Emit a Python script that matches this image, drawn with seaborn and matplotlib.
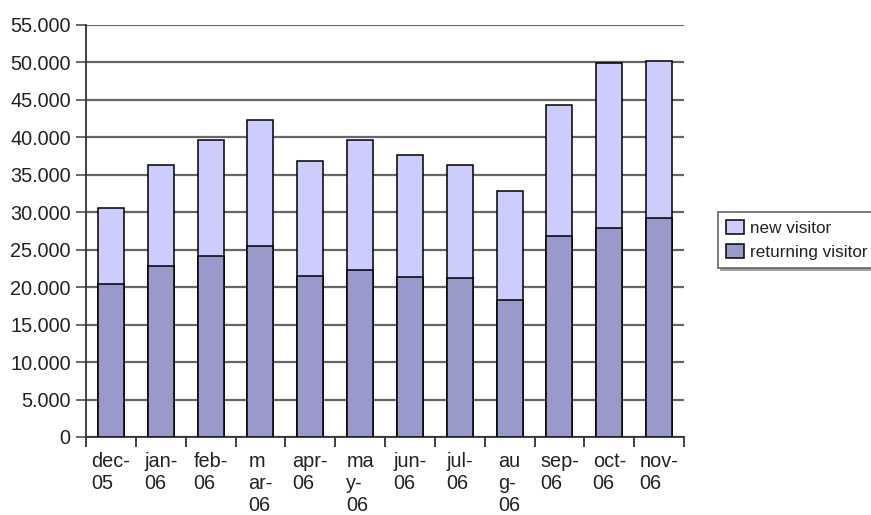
import matplotlib
matplotlib.use("Agg")
import matplotlib.pyplot as plt
import matplotlib.ticker as mticker
from matplotlib.patches import Patch
import numpy as np
import pandas as pd
import seaborn as sns

# Monthly visitor counts
months = ["dec-\n05", "jan-\n06", "feb-\n06", "m\nar-\n06", "apr-\n06", "ma\ny-\n06",
          "jun-\n06", "jul-\n06", "au\ng-\n06", "sep-\n06", "oct-\n06", "nov-\n06"]
returning_visitor = [20400, 22800, 24200, 25500, 21500, 22300,
                     21300, 21200, 18300, 26800, 27900, 29300]
new_visitor = [10200, 13500, 15500, 16800, 15400, 17300,
               16300, 15100, 14600, 17500, 22000, 20900]
y_ticks = list(range(0, 55001, 5000))

NEW_COLOR = "#CCCCFF"
RET_COLOR = "#9999CC"

df = pd.DataFrame({
    "month": months,
    "returning": returning_visitor,
    "new": new_visitor,
})
df["total"] = df["returning"] + df["new"]

sns.set_style("white")
plt.rcParams["font.family"] = ["Liberation Sans", "DejaVu Sans"]

fig = plt.figure(figsize=(8.71, 5.15), dpi=100)
ax = fig.add_axes([86 / 871, 1 - 437 / 515, 598 / 871, 412 / 515])

# Stacked bars: full height in the "new" colour, returning part drawn over it
bar_kws = dict(width=0.52, saturation=1, edgecolor="black", linewidth=1.1, zorder=3)
sns.barplot(data=df, x="month", y="total", color=NEW_COLOR, ax=ax, **bar_kws)
sns.barplot(data=df, x="month", y="returning", color=RET_COLOR, ax=ax, **bar_kws)

ax.set_xlim(-0.5, len(months) - 0.5)
ax.set_ylim(0, 55000)
ax.set_yticks(y_ticks)
ax.yaxis.set_major_formatter(mticker.FuncFormatter(lambda v, p: f"{int(v):,}".replace(",", ".")))
ax.set_xlabel("")
ax.set_ylabel("")

# Horizontal grid
ax.yaxis.grid(True, color="#666666", linewidth=1.6, zorder=0)
ax.set_axisbelow(True)

# Spines
for s in ["top", "right"]:
    ax.spines[s].set_visible(False)
for s in ["left", "bottom"]:
    ax.spines[s].set_color("#333333")
    ax.spines[s].set_linewidth(1.3)

# Ticks
ax.tick_params(axis="y", which="major", length=7, width=1.3, color="#5e5e5e",
               labelsize=14.3, pad=4, left=True)
ax.tick_params(axis="x", which="major", length=0, labelsize=14.3, pad=11)
ax.set_xticks(np.arange(-0.5, len(months)), minor=True)
ax.tick_params(axis="x", which="minor", length=7, width=1.3, color="#333333", bottom=True)
for lbl in ax.get_xticklabels():
    lbl.set_multialignment("left")
    lbl.set_linespacing(1.18)
    lbl.set_color("#222222")
for lbl in ax.get_yticklabels():
    lbl.set_color("#222222")

# Legend
handles = [Patch(facecolor=NEW_COLOR, edgecolor="black", linewidth=1.1, label="new visitor"),
           Patch(facecolor=RET_COLOR, edgecolor="black", linewidth=1.1, label="returning visitor")]
leg = fig.legend(handles=handles, loc="upper left",
                 bbox_to_anchor=(718 / 871, 1 - 212 / 515),
                 fontsize=12.3, frameon=True, fancybox=False,
                 borderpad=0.45, borderaxespad=0, handlelength=1.05, handleheight=0.95,
                 handletextpad=0.35, labelspacing=0.45,
                 shadow={"color": "#999999", "alpha": 1})
leg.get_frame().set_edgecolor("#666666")
leg.get_frame().set_linewidth(1.2)
for t in leg.get_texts():
    t.set_color("#222222")

fig.savefig("out.png", dpi=100)
